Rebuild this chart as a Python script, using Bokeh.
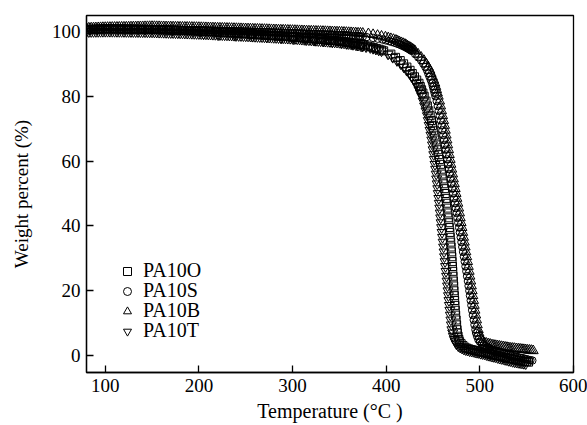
from bokeh.plotting import figure
from bokeh.models import Range1d, Legend, LegendItem
from bokeh.embed import file_html
from bokeh.resources import INLINE

# ---------------- data ----------------
series_names = ["PA10O", "PA10S", "PA10B", "PA10T"]
x_ticks = [100, 200, 300, 400, 500, 600]
y_ticks = [0, 20, 40, 60, 80, 100]

# flat (low-temperature) part: shared temperature grid (deg C)
temp_flat = [80, 82.5, 85, 87.5, 90, 92.5, 95, 97.5, 100, 102.5,
             105, 107.5, 110, 112.5, 115, 117.5, 120, 122.5, 125, 127.5,
             130, 132.5, 135, 137.5, 140, 142.5, 145, 147.5, 150, 152.5,
             155, 157.5, 160, 162.5, 165, 167.5, 170, 172.5, 175, 177.5,
             180, 182.5, 185, 187.5, 190, 192.5, 195, 197.5, 200, 202.5,
             205, 207.5, 210, 212.5, 215, 217.5, 220, 222.5, 225, 227.5,
             230, 232.5, 235, 237.5, 240, 242.5, 245, 247.5, 250, 252.5,
             255, 257.5, 260, 262.5, 265, 267.5, 270, 272.5, 275, 277.5,
             280, 282.5, 285, 287.5, 290, 292.5, 295, 297.5, 300, 302.5,
             305, 307.5, 310, 312.5, 315, 317.5, 320, 322.5, 325, 327.5,
             330, 332.5, 335, 337.5, 340, 342.5, 345, 347.5, 350, 352.5,
             355, 357.5, 360, 362.5, 365, 367.5, 370, 372.5, 375]

wflat_O = [100.60, 100.62, 100.65, 100.68, 100.70, 100.72, 100.75, 100.78, 100.80, 100.79,
           100.78, 100.77, 100.76, 100.75, 100.74, 100.73, 100.72, 100.71, 100.70, 100.69,
           100.68, 100.67, 100.66, 100.65, 100.64, 100.63, 100.62, 100.61, 100.60, 100.58,
           100.55, 100.52, 100.50, 100.48, 100.45, 100.42, 100.40, 100.38, 100.35, 100.32,
           100.30, 100.28, 100.25, 100.22, 100.20, 100.18, 100.15, 100.12, 100.10, 100.06,
           100.02, 99.98, 99.94, 99.90, 99.86, 99.82, 99.78, 99.74, 99.70, 99.66,
           99.62, 99.58, 99.54, 99.50, 99.46, 99.42, 99.38, 99.34, 99.30, 99.25,
           99.20, 99.15, 99.10, 99.05, 99.00, 98.95, 98.90, 98.85, 98.80, 98.75,
           98.70, 98.65, 98.60, 98.55, 98.50, 98.45, 98.40, 98.35, 98.30, 98.23,
           98.17, 98.10, 98.04, 97.97, 97.91, 97.84, 97.78, 97.71, 97.65, 97.58,
           97.52, 97.45, 97.39, 97.32, 97.26, 97.19, 97.13, 97.06, 97.00, 96.89,
           96.78, 96.67, 96.56, 96.45, 96.34, 96.23, 96.12, 96.01, 95.90]
wflat_S = [100.40, 100.42, 100.45, 100.48, 100.50, 100.52, 100.55, 100.58, 100.60, 100.60,
           100.61, 100.62, 100.62, 100.63, 100.63, 100.64, 100.64, 100.65, 100.65, 100.66,
           100.66, 100.67, 100.67, 100.68, 100.68, 100.69, 100.69, 100.70, 100.70, 100.68,
           100.67, 100.66, 100.64, 100.62, 100.61, 100.60, 100.58, 100.56, 100.55, 100.54,
           100.52, 100.50, 100.49, 100.48, 100.46, 100.44, 100.43, 100.42, 100.40, 100.38,
           100.36, 100.34, 100.32, 100.30, 100.28, 100.26, 100.24, 100.22, 100.20, 100.18,
           100.16, 100.14, 100.12, 100.10, 100.08, 100.06, 100.04, 100.02, 100.00, 99.98,
           99.95, 99.92, 99.90, 99.88, 99.85, 99.82, 99.80, 99.78, 99.75, 99.72,
           99.70, 99.68, 99.65, 99.62, 99.60, 99.58, 99.55, 99.52, 99.50, 99.47,
           99.44, 99.41, 99.38, 99.35, 99.32, 99.29, 99.26, 99.23, 99.20, 99.17,
           99.14, 99.11, 99.08, 99.05, 99.02, 98.99, 98.96, 98.93, 98.90, 98.85,
           98.80, 98.75, 98.70, 98.65, 98.60, 98.55, 98.50, 98.45, 98.40]
wflat_B = [101.00, 101.02, 101.05, 101.08, 101.10, 101.12, 101.15, 101.18, 101.20, 101.22,
           101.23, 101.25, 101.26, 101.28, 101.29, 101.31, 101.32, 101.34, 101.35, 101.37,
           101.38, 101.40, 101.41, 101.43, 101.44, 101.46, 101.47, 101.49, 101.50, 101.49,
           101.47, 101.46, 101.44, 101.43, 101.41, 101.40, 101.38, 101.37, 101.35, 101.34,
           101.32, 101.31, 101.29, 101.28, 101.26, 101.25, 101.23, 101.22, 101.20, 101.18,
           101.16, 101.14, 101.12, 101.10, 101.08, 101.06, 101.04, 101.02, 101.00, 100.98,
           100.96, 100.94, 100.92, 100.90, 100.88, 100.86, 100.84, 100.82, 100.80, 100.78,
           100.75, 100.72, 100.70, 100.68, 100.65, 100.62, 100.60, 100.58, 100.55, 100.52,
           100.50, 100.48, 100.45, 100.42, 100.40, 100.38, 100.35, 100.32, 100.30, 100.28,
           100.25, 100.22, 100.20, 100.18, 100.15, 100.12, 100.10, 100.08, 100.05, 100.02,
           100.00, 99.98, 99.95, 99.92, 99.90, 99.88, 99.85, 99.82, 99.80, 99.76,
           99.72, 99.68, 99.64, 99.60, 99.56, 99.52, 99.48, 99.44, 99.40]
wflat_T = [99.90, 99.91, 99.92, 99.94, 99.95, 99.96, 99.98, 99.99, 100.00, 100.00,
           100.00, 99.99, 99.98, 99.97, 99.96, 99.95, 99.94, 99.93, 99.92, 99.91,
           99.90, 99.89, 99.88, 99.87, 99.86, 99.85, 99.83, 99.82, 99.80, 99.78,
           99.75, 99.72, 99.70, 99.68, 99.65, 99.62, 99.60, 99.58, 99.55, 99.52,
           99.50, 99.48, 99.45, 99.42, 99.40, 99.38, 99.35, 99.32, 99.30, 99.26,
           99.23, 99.20, 99.16, 99.12, 99.09, 99.06, 99.02, 98.98, 98.95, 98.92,
           98.88, 98.84, 98.81, 98.78, 98.74, 98.70, 98.67, 98.64, 98.60, 98.56,
           98.52, 98.48, 98.44, 98.40, 98.36, 98.32, 98.28, 98.24, 98.20, 98.16,
           98.12, 98.08, 98.04, 98.00, 97.96, 97.92, 97.88, 97.84, 97.80, 97.74,
           97.68, 97.62, 97.56, 97.50, 97.44, 97.38, 97.32, 97.26, 97.20, 97.14,
           97.08, 97.02, 96.96, 96.90, 96.84, 96.78, 96.72, 96.66, 96.60, 96.50,
           96.40, 96.30, 96.20, 96.10, 96.00, 95.88, 95.75, 95.62, 95.50]

# decomposition step: shared weight levels (%), temperature of each series at that level
w_levels = [99.25, 99, 98.75, 98.5, 98.25, 98, 97.75, 97.5, 97.25, 97, 96.75,
            96.5, 96.25, 96, 95.75, 95.5, 95.25, 95, 94.75, 94.5, 94.25, 94,
            93, 92, 91, 90, 89, 88, 87, 86, 85, 84, 83, 82, 81, 80,
            78.5, 77, 75.5, 74, 72.5, 71, 69.5, 68, 66.5, 65, 63.5, 62, 60.5, 59, 57.5,
            56, 54.5, 53, 51.5, 50, 48.5, 47, 45.5, 44, 42.5, 41, 39.5, 38, 36.5, 35,
            33.5, 32, 30.5, 29, 27.5, 26, 24.5, 23, 21.5, 20, 18.5, 17, 15.5, 14, 12.5,
            11, 9.5, 8, 7, 6, 5, 4.3]

tdrop_O = [256, 265, 277.5, 290, 301, 311.5, 321, 330.8, 340.4, 350, 355.7,
           361.4, 367, 372.7, 376.4, 380, 383.2, 386.3, 389.4, 392.5, 394.9, 397.3,
           405, 410, 415, 418.6, 422.1, 425.5, 427.9, 430.2, 432.6, 435, 436.4, 437.8, 439.2, 440.6,
           442.5, 444, 445.5, 447, 448.4, 449.5, 450.7, 451.8, 453, 454, 455, 456, 457, 458, 458.9,
           459.7, 460.6, 461.4, 462.2, 463, 463.8, 464.5, 465.2, 465.8, 466.3, 466.9, 467.4, 468, 468.4, 468.9,
           469.3, 469.7, 470.1, 470.4, 470.8, 471.1, 471.4, 471.8, 472.1, 472.4, 472.8, 473.1, 473.4, 473.8, 474.2,
           474.7, 475.2, 475.7, 476, 476.8, 477.6, 478.4]
tdrop_S = [318, 341.7, 357.5, 371, 379, 386, 391, 396, 399.5, 403, 406,
           409, 411.5, 414, 416, 418, 419.8, 421.5, 423, 424.5, 425.9, 427.2,
           431, 434.3, 437.4, 439.7, 441.9, 443.7, 445, 446.3, 447.7, 449, 449.9, 450.8, 451.7, 452.6,
           454, 455.1, 456.1, 457.2, 458.3, 459.3, 460.1, 461, 461.9, 462.7, 463.6, 464.4, 465.3, 466.1, 467,
           467.9, 468.8, 469.8, 470.7, 471.6, 472.5, 473.5, 474.4, 475.3, 476.1, 477, 477.9, 478.7, 479.6, 480.4,
           481.3, 482.1, 483, 483.9, 484.7, 485.6, 486.4, 487.3, 488, 488.8, 489.5, 490.3, 491, 491.8, 492.6,
           493.5, 494.3, 495.3, 496, 497.1, 498.4, 500]
tdrop_B = [381, 386, 390.8, 395, 399.2, 402.2, 405, 407.8, 410.4, 412.3, 414.2,
           416.2, 418.1, 420, 421.4, 422.8, 424.2, 425.6, 427, 428.3, 429.5, 430.7,
           434, 437.3, 440.4, 442.7, 444.9, 446.7, 448, 449.3, 450.7, 452, 452.9, 453.8, 454.7, 455.6,
           457, 458.1, 459.1, 460.2, 461.3, 462.3, 463.1, 464, 464.9, 465.7, 466.6, 467.4, 468.3, 469.1, 470,
           470.9, 471.8, 472.8, 473.7, 474.6, 475.5, 476.5, 477.4, 478.3, 479.1, 480, 480.9, 481.7, 482.6, 483.4,
           484.3, 485.1, 486, 486.9, 487.7, 488.6, 489.4, 490.3, 491, 491.8, 492.5, 493.3, 494, 494.8, 495.6,
           496.5, 497.3, 498.3, 499, 500.1, 501.2, 503]
tdrop_T = [205, 221, 239, 257, 272.5, 288, 301, 314, 323.5, 333, 342.5,
           352, 358, 364, 369, 374, 378.5, 383, 386, 389, 392, 395,
           402, 407, 411.5, 415.6, 418.8, 421.9, 425, 427.3, 429.7, 432, 433.5, 435, 436.5, 438,
           439.5, 441, 442.5, 444, 444.9, 445.9, 446.8, 447.8, 448.7, 449.4, 450.1, 450.8, 451.4, 452.1, 452.8,
           453.4, 453.9, 454.5, 455.1, 455.6, 456.2, 456.7, 457.2, 457.7, 458.2, 458.7, 459.2, 459.7, 460.2, 460.8,
           461.3, 461.8, 462.3, 462.9, 463.4, 463.9, 464.5, 465, 465.5, 466, 466.5, 467, 467.5, 468, 468.5,
           469.1, 469.6, 470.2, 471, 471.7, 472.8, 473.8]

# residue tails
ttail_O = [480, 482, 484, 486, 488, 490, 492, 494, 496, 498,
           500, 502, 504, 506, 508, 510, 512, 514, 516, 518,
           520, 522, 524, 526, 528, 530, 532, 534, 536, 538,
           540, 542, 544, 546, 548, 550, 552]
wtail_O = [3.7, 3.1, 2.6, 2.3, 2.1, 1.9, 1.8, 1.6, 1.5, 1.4,
           1.2, 1.1, 1.0, 0.8, 0.7, 0.6, 0.4, 0.3, 0.2, 0.0,
           -0.1, -0.2, -0.4, -0.5, -0.6, -0.8, -0.9, -1.0, -1.1, -1.3,
           -1.4, -1.5, -1.6, -1.7, -1.8, -1.9, -2.0]
ttail_S = [502, 504, 506, 508, 510, 512, 514, 516, 518, 520,
           522, 524, 526, 528, 530, 532, 534, 536, 538, 540,
           542, 544, 546, 548, 550, 552, 554, 556]
wtail_S = [3.7, 3.2, 2.8, 2.5, 2.3, 2.0, 1.8, 1.6, 1.4, 1.2,
           1.0, 0.8, 0.6, 0.4, 0.3, 0.1, 0.0, -0.2, -0.3, -0.4,
           -0.6, -0.7, -0.8, -1.0, -1.1, -1.3, -1.4, -1.5]
ttail_B = [505, 507, 509, 511, 513, 515, 517, 519, 521, 523,
           525, 527, 529, 531, 533, 535, 537, 539, 541, 543,
           545, 547, 549, 551, 553, 555, 557]
wtail_B = [4.0, 3.8, 3.6, 3.5, 3.3, 3.2, 3.1, 3.0, 2.9, 2.8,
           2.7, 2.6, 2.5, 2.4, 2.3, 2.25, 2.2, 2.1, 2.05, 2.0,
           1.9, 1.85, 1.8, 1.7, 1.65, 1.6, 1.5]
ttail_T = [475, 477, 479, 481, 483, 485, 487, 489, 491, 493,
           495, 497, 499, 501, 503, 505, 507, 509, 511, 513,
           515, 517, 519, 521, 523, 525, 527, 529, 531, 533,
           535, 537, 539, 541, 543, 545, 547, 549]
wtail_T = [3.6, 3.0, 2.6, 2.3, 2.0, 1.8, 1.7, 1.5, 1.4, 1.3,
           1.1, 1.0, 0.9, 0.7, 0.6, 0.5, 0.3, 0.1, 0.0, -0.2,
           -0.3, -0.4, -0.6, -0.8, -0.9, -1.0, -1.2, -1.3, -1.5, -1.6,
           -1.8, -1.9, -2.0, -2.1, -2.2, -2.3, -2.4, -2.5]

series = {
    "PA10O": (temp_flat + tdrop_O + ttail_O, wflat_O + w_levels + wtail_O),
    "PA10S": (temp_flat + tdrop_S + ttail_S, wflat_S + w_levels + wtail_S),
    "PA10B": (temp_flat + tdrop_B + ttail_B, wflat_B + w_levels + wtail_B),
    "PA10T": (temp_flat + tdrop_T + ttail_T, wflat_T + w_levels + wtail_T),
}

# ---------------- figure ----------------
FONT = "Liberation Serif"
p = figure(width=587, height=425, x_range=Range1d(80, 600), y_range=Range1d(-5.2, 104.9),
           output_backend="svg", toolbar_location=None,
           min_border_left=86, min_border_right=14, min_border_top=15, min_border_bottom=53)
p.background_fill_color = "white"
p.border_fill_color = "white"
p.outline_line_color = "black"
p.outline_line_width = 1.3
p.xgrid.visible = False
p.ygrid.visible = False

p.xaxis.ticker = x_ticks
p.yaxis.ticker = y_ticks
p.xaxis.axis_label = "Temperature (\u00b0C )"
p.yaxis.axis_label = "Weight percent (%)"
for ax in (p.xaxis, p.yaxis):
    ax.major_tick_in = 7
    ax.major_tick_out = 0
    ax.minor_tick_in = 0
    ax.minor_tick_out = 0
    ax.axis_line_width = 1.3
    ax.axis_line_color = "black"
    ax.major_tick_line_width = 1.3
    ax.major_tick_line_color = "black"
    ax.major_label_text_font = FONT
    ax.major_label_text_font_size = "19px"
    ax.major_label_text_color = "black"
    ax.major_label_standoff = 6
    ax.axis_label_text_font = FONT
    ax.axis_label_text_font_size = "19px"
    ax.axis_label_text_font_style = "normal"
    ax.axis_label_text_color = "black"
p.xaxis.axis_label_text_font_size = "20px"
p.xaxis.axis_label_standoff = 5
p.yaxis.axis_label_standoff = 17

markers = {"PA10O": ("square", 8), "PA10S": ("circle", 7.5),
           "PA10B": ("triangle", 10), "PA10T": ("inverted_triangle", 10)}
renderers = {}
for name in series_names:
    xs, ys = series[name]
    mk, sz = markers[name]
    renderers[name] = p.scatter(xs, ys, marker=mk, size=sz, line_color="black",
                                fill_color="white", fill_alpha=0.0, line_width=1.0)

# one legend entry per row so that rows are exactly 20 px apart
for i, name in enumerate(series_names):
    leg = Legend(items=[LegendItem(label=name, renderers=[renderers[name]])],
                 location=(31, 90 - 20 * i), glyph_width=20, glyph_height=20,
                 label_height=20, spacing=0, padding=0, margin=0,
                 border_line_color=None, background_fill_alpha=0,
                 label_text_font=FONT, label_text_font_size="20px",
                 label_text_color="black", label_standoff=6)
    p.add_layout(leg)

open("out.html", "w").write(file_html(p, INLINE))
